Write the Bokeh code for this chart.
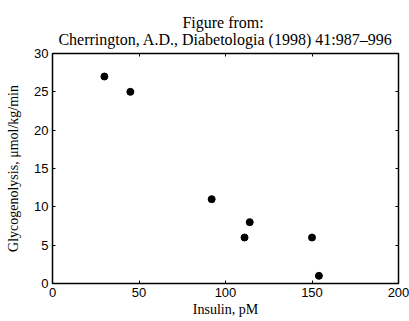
from bokeh.plotting import figure
from bokeh.models import Range1d, LinearAxis, FixedTicker, CustomJSTickFormatter, ColumnDataSource
from bokeh.embed import file_html
from bokeh.resources import INLINE

insulin = [30, 45, 92, 111, 114, 150, 154]
glyco = [27, 25, 11, 6, 8, 6, 1]
x_ticks = [0, 50, 100, 150, 200]
y_ticks = [0, 5, 10, 15, 20, 25, 30]
title_lines = ["Figure from:", "Cherrington, A.D., Diabetologia (1998) 41:987–996"]

src = ColumnDataSource(dict(x=insulin, y=glyco))

pad = "\u00a0" * 31
p = figure(width=409, height=321, output_backend="svg", toolbar_location=None,
           x_range=Range1d(0, 200), y_range=Range1d(0, 30),
           min_border_left=52, min_border_right=11, min_border_top=53, min_border_bottom=38,
           title=pad + title_lines[0] + "\n" + title_lines[1])
p.title.align = "center"
p.title.text_font = "Liberation Serif"
p.title.text_font_size = "16px"
p.title.text_font_style = "normal"
p.title.text_color = "black"
p.title.standoff = 12

p.xgrid.visible = False
p.ygrid.visible = False
p.outline_line_color = "black"
p.outline_line_width = 1.5
p.background_fill_color = "white"
p.border_fill_color = "white"

for ax, ticks in ((p.xaxis[0], x_ticks), (p.yaxis[0], y_ticks)):
    ax.ticker = FixedTicker(ticks=ticks)
    ax.major_tick_in = 3
    ax.major_tick_out = 0
    ax.major_tick_line_color = "black"
    ax.major_tick_line_width = 1
    ax.minor_tick_line_color = None
    ax.axis_line_color = "black"
    ax.major_label_text_font = "Liberation Sans"
    ax.major_label_text_font_size = "13px"
    ax.major_label_text_color = "black"
    ax.major_label_standoff = 4
    ax.axis_label_text_font = "Liberation Serif"
    ax.axis_label_text_font_size = "14px"
    ax.axis_label_text_font_style = "normal"
    ax.axis_label_text_color = "black"

p.xaxis[0].axis_label = "Insulin, pM"
p.xaxis[0].axis_label_standoff = 2
p.yaxis[0].axis_label = "Glycogenolysis, μmol/kg/min"
p.yaxis[0].axis_label_standoff = 10

blank = CustomJSTickFormatter(code="return ''")
top = LinearAxis(ticker=FixedTicker(ticks=x_ticks), formatter=blank,
                 major_tick_in=3, major_tick_out=0, major_tick_line_color="black",
                 minor_tick_line_color=None,
                 major_label_standoff=0, axis_line_color="black")
right = LinearAxis(ticker=FixedTicker(ticks=y_ticks), formatter=blank,
                   major_tick_in=3, major_tick_out=0, major_tick_line_color="black",
                   minor_tick_line_color=None,
                   major_label_standoff=0, axis_line_color="black")
p.add_layout(top, "above")
p.add_layout(right, "right")

p.scatter("x", "y", source=src, size=7, color="black")

open("out.html", "w").write(file_html(p, INLINE))
